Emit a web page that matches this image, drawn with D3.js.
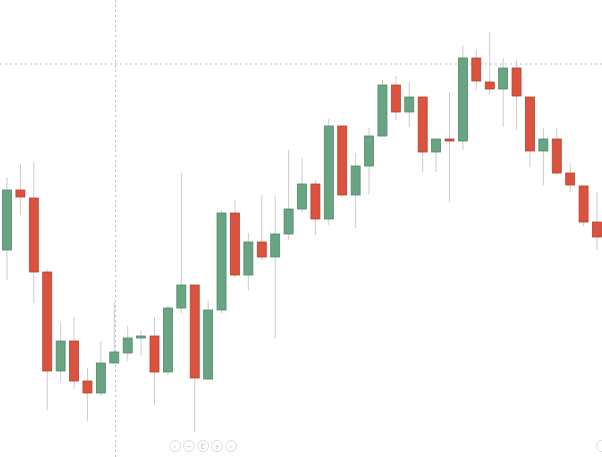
<!DOCTYPE html>
<html><head><meta charset="utf-8">
<script src="https://cdn.jsdelivr.net/npm/d3@7"></script>
<style>body{margin:0;background:#fff;font-family:"DejaVu Sans",sans-serif}</style>
</head><body><svg id="c" width="602" height="457"></svg>
<script>
const open =  [210,270,262,188,89,119,79,67,97,107,122,124,88,152,175,81,150,247,185,218,203,226,251,276,241,334,265,294,324,375,348,363,308,321,319,402,378,371,392,363,309,321,287,274,238];
const close = [270,263,188,89,119,79,67,97,108,122,124,88,152,175,82,150,247,185,218,203,226,251,276,241,334,265,294,324,375,348,363,308,321,319,402,379,371,392,364,309,321,287,275,238,223];
const high =  [283,296,298,191,138,143,92,119,158,134,129,143,154,287,175,160,250,260,227,265,264,310,302,280,341,334,307,332,380,384,378,363,321,368,415,410,428,402,400,363,332,332,297,274,268];
const low =   [180,245,157,50,78,71,39,64,97,99,104,55,85,147,28,80,147,183,169,200,122,220,248,225,235,263,232,265,323,340,333,288,288,258,310,370,365,333,330,293,275,285,268,234,210];
const crossPrice = 396, crossIndex = 8.1;

const svg = d3.select("#c");
const x = d3.scaleLinear().domain([0, open.length-1]).range([7, 597]);
const y = d3.scaleLinear().domain([0, 460]).range([460, 0]);
const bw = 9;
const data = open.map((o,i)=>({i,o,c:close[i],h:high[i],l:low[i]}));

svg.append("line").attr("x1",0).attr("x2",602).attr("y1",y(crossPrice)).attr("y2",y(crossPrice))
  .attr("stroke","#bbb").attr("stroke-dasharray","2,3");
svg.append("line").attr("x1",x(crossIndex)).attr("x2",x(crossIndex)).attr("y1",0).attr("y2",457)
  .attr("stroke","#bbb").attr("stroke-dasharray","2,3");

const g = svg.append("g");
g.selectAll("line.w").data(data).join("line").attr("class","w")
  .attr("x1",d=>x(d.i)).attr("x2",d=>x(d.i)).attr("y1",d=>y(d.h)).attr("y2",d=>y(d.l))
  .attr("stroke","#ccc").attr("stroke-width",1);
g.selectAll("rect").data(data).join("rect")
  .attr("x",d=>x(d.i)-bw/2).attr("width",bw)
  .attr("y",d=>y(Math.max(d.o,d.c))).attr("height",d=>Math.max(1.5,Math.abs(y(d.o)-y(d.c))))
  .attr("fill",d=>d.c>=d.o?"#6aa583":"#d9533f")
  .attr("stroke",d=>d.c>=d.o?"#4e8a68":"#b8432f").attr("stroke-width",0.8);

const btns = ["‹","−","C","+","›"];
const bg = svg.append("g");
btns.forEach((t,k)=>{
  const cx = 175 + k*14;
  bg.append("circle").attr("cx",cx).attr("cy",446).attr("r",5.5).attr("fill","#fff").attr("stroke","#ddd");
  bg.append("text").attr("x",cx).attr("y",449).attr("text-anchor","middle").attr("font-size",7).attr("fill","#bbb").text(t);
});
bg.append("circle").attr("cx",602).attr("cy",446).attr("r",5.5).attr("fill","#fff").attr("stroke","#ddd");
</script></body></html>
